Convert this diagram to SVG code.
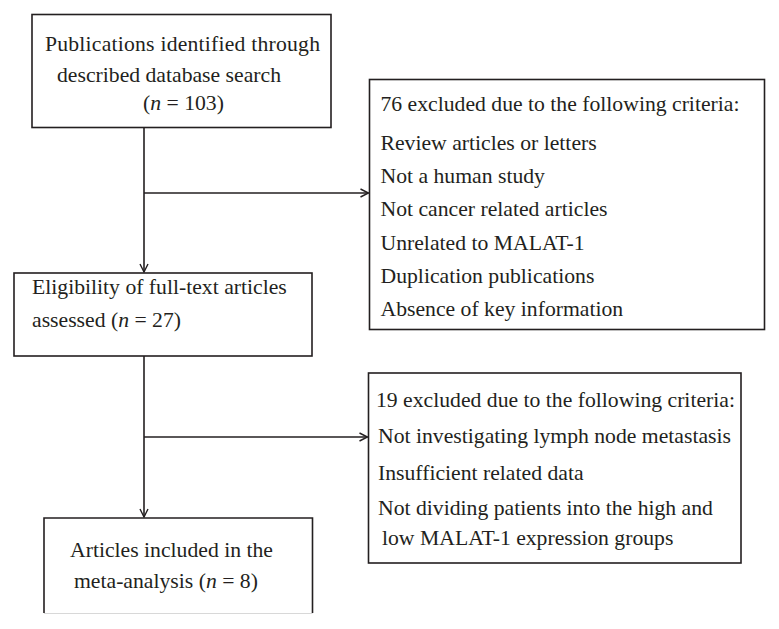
<svg xmlns="http://www.w3.org/2000/svg" width="779" height="629" viewBox="0 0 779 629">
<defs>
<style>
.box{fill:#fff;stroke:#231f20;stroke-width:1.6}
.t{font-family:"Liberation Serif","Times New Roman",serif;font-size:21.7px;fill:#231f20}
.i{font-style:italic}
.c{fill:none;stroke:#231f20;stroke-width:1.6}
</style>
<marker id="ah" viewBox="0 0 10 10" refX="9" refY="5" markerWidth="10" markerHeight="10" markerUnits="userSpaceOnUse" orient="auto">
<path d="M1,1 L9,5 L1,9" fill="none" stroke="#231f20" stroke-width="1.4"/>
</marker>
</defs>
<rect width="779" height="629" fill="#fff"/>
<g id="connectors">
<line class="c" x1="144" y1="128" x2="144" y2="272" marker-end="url(#ah)"/>
<line class="c" x1="144" y1="193" x2="368.5" y2="193" marker-end="url(#ah)"/>
<line class="c" x1="144" y1="356" x2="144" y2="517" marker-end="url(#ah)"/>
<line class="c" x1="144" y1="437" x2="367.5" y2="437" marker-end="url(#ah)"/>
</g>
<g id="n1">
<rect class="box" x="32" y="14.5" width="299" height="113"/>
<text class="t" x="45" y="51" textLength="275">Publications identified through</text>
<text class="t" x="57" y="82">described database search</text>
<text class="t" x="143" y="110">(<tspan class="i">n</tspan> = 103)</text>
</g>
<g id="n2">
<rect class="box" x="369.5" y="79.5" width="395" height="250"/>
<text class="t" x="380.5" y="111">76 excluded due to the following criteria:</text>
<text class="t" x="380.5" y="150">Review articles or letters</text>
<text class="t" x="380.5" y="183">Not a human study</text>
<text class="t" x="380.5" y="216">Not cancer related articles</text>
<text class="t" x="380.5" y="250">Unrelated to MALAT-1</text>
<text class="t" x="380.5" y="283">Duplication publications</text>
<text class="t" x="380.5" y="316">Absence of key information</text>
</g>
<g id="n3">
<rect class="box" x="14" y="273" width="298" height="83"/>
<text class="t" x="32" y="294">Eligibility of full-text articles</text>
<text class="t" x="32" y="327">assessed (<tspan class="i">n</tspan> = 27)</text>
</g>
<g id="n4">
<rect class="box" x="368.5" y="373" width="372.5" height="190"/>
<text class="t" x="376" y="407">19 excluded due to the following criteria:</text>
<text class="t" x="378" y="443">Not investigating lymph node metastasis</text>
<text class="t" x="378" y="480">Insufficient related data</text>
<text class="t" x="378" y="515">Not dividing patients into the high and</text>
<text class="t" x="382" y="545">low MALAT-1 expression groups</text>
</g>
<g id="n5">
<path class="c" d="M44,613 L44,518 L312.5,518 L312.5,613"/>
<line x1="44" y1="613.5" x2="312.5" y2="613.5" stroke="#d8d8d8" stroke-width="1"/>
<text class="t" x="70" y="557">Articles included in the</text>
<text class="t" x="74" y="588">meta-analysis (<tspan class="i">n</tspan> = 8)</text>
</g>
</svg>
